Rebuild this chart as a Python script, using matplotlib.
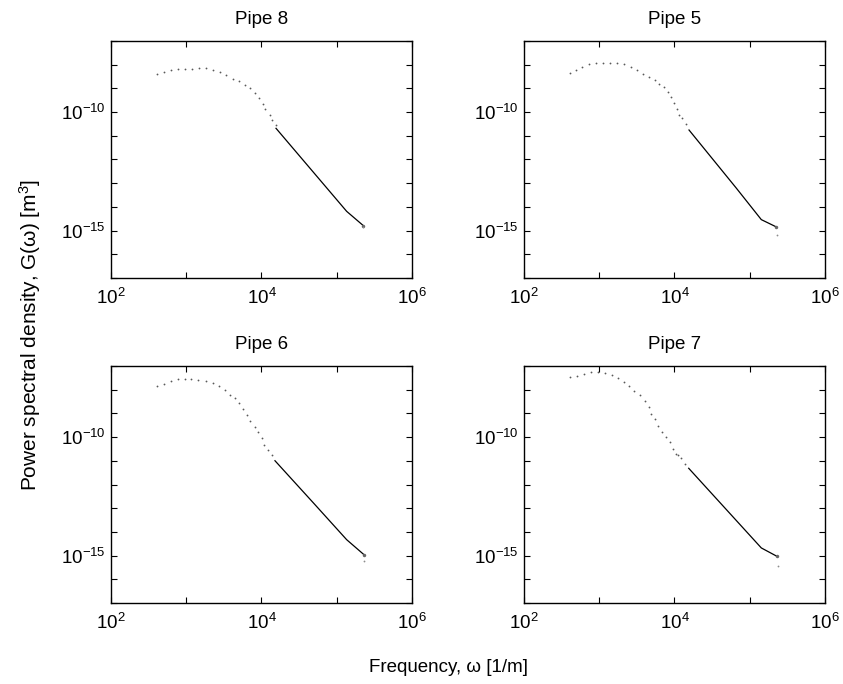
import numpy as np
import matplotlib
matplotlib.use("Agg")
import matplotlib.pyplot as plt

plt.rcParams['font.family'] = ['Liberation Sans', 'DejaVu Sans']
plt.rcParams['mathtext.fontset'] = 'custom'
plt.rcParams['mathtext.rm'] = 'Liberation Sans'
plt.rcParams['mathtext.default'] = 'regular'

# values, as log10 of frequency [1/m] and log10 of G [m^3]
titles = ["Pipe 8", "Pipe 5", "Pipe 6", "Pipe 7"]

# low frequency part (separate dots)
logf8 = [2.607, 2.700, 2.793, 2.886, 2.979, 3.076, 3.169, 3.262, 3.355, 3.448, 3.532,
         3.617, 3.697, 3.777, 3.847, 3.914, 3.967, 4.024, 4.050, 4.109, 4.140, 4.189]
logG8 = [-8.403, -8.319, -8.235, -8.164, -8.164, -8.164, -8.139, -8.139, -8.206, -8.307, -8.445,
         -8.584, -8.710, -8.878, -9.004, -9.202, -9.424, -9.651, -9.887, -10.126, -10.336, -10.546]

logf5 = [2.607, 2.691, 2.775, 2.864, 2.957, 3.050, 3.147, 3.240, 3.333, 3.426, 3.506, 3.585,
         3.661, 3.737, 3.790, 3.856, 3.910, 3.950, 3.989, 4.029, 4.064, 4.100, 4.157]
logG5 = [-8.349, -8.235, -8.109, -7.983, -7.929, -7.929, -7.929, -7.929, -7.983, -8.080, -8.223, -8.391,
         -8.529, -8.626, -8.824, -8.962, -9.160, -9.370, -9.634, -9.874, -10.139, -10.265, -10.517]

logf6 = [2.607, 2.700, 2.793, 2.886, 2.979, 3.067, 3.160, 3.258, 3.351, 3.435, 3.515, 3.581,
         3.652, 3.701, 3.758, 3.803, 3.851, 3.910, 3.953, 4.007, 4.037, 4.090, 4.140]
logG6 = [-7.828, -7.744, -7.634, -7.550, -7.534, -7.550, -7.605, -7.647, -7.718, -7.845, -7.996, -8.223,
         -8.332, -8.571, -8.824, -9.076, -9.315, -9.567, -9.790, -10.029, -10.336, -10.559, -10.769]

logf7 = [2.607, 2.700, 2.793, 2.886, 2.979, 3.072, 3.165, 3.249, 3.325, 3.391, 3.462, 3.546, 3.608,
         3.657, 3.692, 3.741, 3.781, 3.830, 3.887, 3.944, 3.984, 4.024, 4.046, 4.090, 4.135]
logG7 = [-7.466, -7.408, -7.324, -7.269, -7.269, -7.298, -7.366, -7.492, -7.689, -7.857, -8.067, -8.223, -8.458,
         -8.727, -9.004, -9.256, -9.538, -9.777, -10.013, -10.223, -10.517, -10.714, -10.756, -10.882, -11.147]

# high frequency part (dense points, looks like a line)
line_f8 = [4.193, 5.132, 5.353]
line_G8 = [-10.685, -14.189, -14.79]
line_f5 = [4.193, 4.821, 5.154, 5.353]
line_G5 = [-10.756, -13.206, -14.538, -14.845]
line_f6 = [4.179, 4.688, 5.132, 5.362]
line_G6 = [-10.996, -12.77, -14.328, -14.96]
line_f7 = [4.189, 5.154, 5.362]
line_G7 = [-11.315, -14.676, -15.03]

# last stray point at the end of each spectrum
end_f = [5.35, 5.36, 5.366, 5.37]
end_G = [-14.85, -15.17, -15.24, -15.45]

dots = [(logf8, logG8), (logf5, logG5), (logf6, logG6), (logf7, logG7)]
lines = [(line_f8, line_G8), (line_f5, line_G5), (line_f6, line_G6), (line_f7, line_G7)]

fig = plt.figure(figsize=(8.43, 6.84), dpi=100)
lefts = [0.1317, 0.6216, 0.1317, 0.6216]
bottoms = [0.5936, 0.5936, 0.1184, 0.1184]
w, h = 0.357, 0.3465

for i in range(4):
    ax = fig.add_axes([lefts[i], bottoms[i], w, h])
    fx, gy = dots[i]
    lx, ly = lines[i]
    ax.plot(10 ** np.array(fx), 10 ** np.array(gy), 'o', color='0.35', ms=1.3, mew=0)
    ax.plot(10 ** np.array(lx), 10 ** np.array(ly), '-', color='k', lw=0.9)
    ax.plot(10 ** np.array(lx[-1:]), 10 ** np.array(ly[-1:]), 'o', color='0.4', ms=2.5, mew=0)
    ax.plot([10 ** end_f[i]], [10 ** end_G[i]], 'o', color='0.55', ms=1.3, mew=0)

    ax.set_xscale('log')
    ax.set_yscale('log')
    ax.set_xlim(1e2, 1e6)
    ax.set_ylim(1e-17, 1e-7)
    ax.set_xticks([1e2, 1e4, 1e6])
    ax.set_xticks([1e3, 1e5], minor=True)
    ax.set_yticks([1e-15, 1e-10])
    ax.set_yticks([10.0 ** k for k in range(-17, -6) if k not in (-15, -10)], minor=True)
    ax.set_yticklabels([], minor=True)
    ax.set_xticklabels([], minor=True)
    ax.tick_params(which='both', direction='in', length=4, width=0.8,
                   top=True, right=True, labelsize=13.5)
    ax.tick_params(axis='x', which='both', pad=7)
    ax.tick_params(axis='y', which='both', pad=4)
    for s in ax.spines.values():
        s.set_linewidth(1.0)
    ax.set_title(titles[i], fontsize=13.5, pad=12)

fig.text(0.0356, 0.51, "Power spectral density, G(ω) [m$^3$]", rotation=90,
         ha='center', va='center', fontsize=15)
fig.text(0.6263, 0.024, "Frequency, ω [1/m]", ha='right', va='center', fontsize=13.5)

fig.savefig("out.png", dpi=100)
